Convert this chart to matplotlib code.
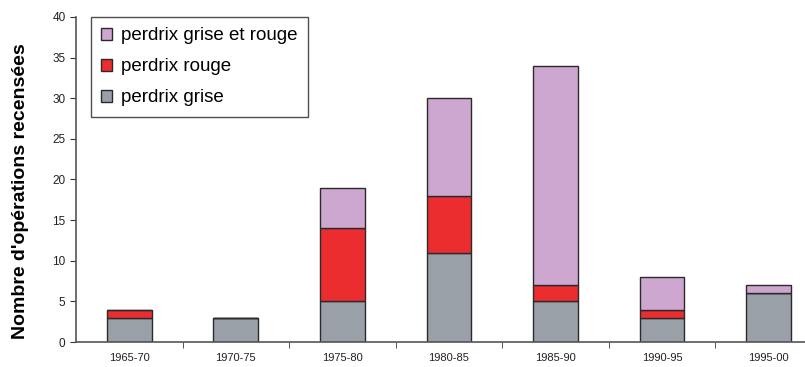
import numpy as np
import matplotlib
matplotlib.use("Agg")
import matplotlib.pyplot as plt

periods = ["1965-70", "1970-75", "1975-80", "1980-85", "1985-90", "1990-95", "1995-00"]
grise = [3, 3, 5, 11, 5, 3, 6]
rouge = [1, 0, 9, 7, 2, 1, 0]
grise_et_rouge = [0, 0, 5, 12, 27, 4, 1]

plt.rcParams['font.family'] = ['Liberation Sans', 'DejaVu Sans']

fig = plt.figure(figsize=(8.05, 3.67), dpi=100)
ax = fig.add_axes([0.0944, 0.068, 0.92, 0.886])

x = np.arange(len(periods))
w = 0.42
edge = dict(edgecolor='#2a2a2a', linewidth=1.0)
b1 = ax.bar(x, grise, w, color='#9aa0a8', label='perdrix grise', **edge)
b2 = ax.bar(x, rouge, w, bottom=grise, color='#ec2d30', label='perdrix rouge', **edge)
bot2 = np.array(grise) + np.array(rouge)
b3 = ax.bar(x, grise_et_rouge, w, bottom=bot2, color='#cda7cf',
            label='perdrix grise et rouge', **edge)

ax.set_xlim(-0.5, 6.45)
ax.set_ylim(0, 40)
ax.set_yticks(range(0, 41, 5))
ax.set_xticks(x)
ax.set_xticklabels(periods, fontsize=8, color='#222222')
ax.tick_params(axis='x', length=0, pad=8)
ax.set_xticks(np.arange(0.5, 6.5, 1), minor=True)
ax.tick_params(axis='x', which='minor', length=4, direction='out', color='#333333')
ax.tick_params(axis='y', length=4, direction='out', labelsize=8.5, color='#333333',
               labelcolor='#222222')

for s in ['top', 'right']:
    ax.spines[s].set_visible(False)
for s in ['left', 'bottom']:
    ax.spines[s].set_color('#555555')
    ax.spines[s].set_linewidth(1.2)

ax.set_ylabel("Nombre d'opérations recensées", fontsize=14, fontweight='bold')
ax.yaxis.set_label_coords(-0.063, 0.465)

leg = ax.legend(handles=[b3, b2, b1], loc='upper left', bbox_to_anchor=(0.02, 1.0),
                fontsize=13.5, frameon=True, fancybox=False, borderpad=0.55,
                handlelength=0.6, handleheight=0.6, handletextpad=0.45,
                labelspacing=0.75, borderaxespad=0)
leg.get_frame().set_edgecolor('#222222')
leg.get_frame().set_linewidth(1.0)

fig.savefig("out.png", dpi=100)
